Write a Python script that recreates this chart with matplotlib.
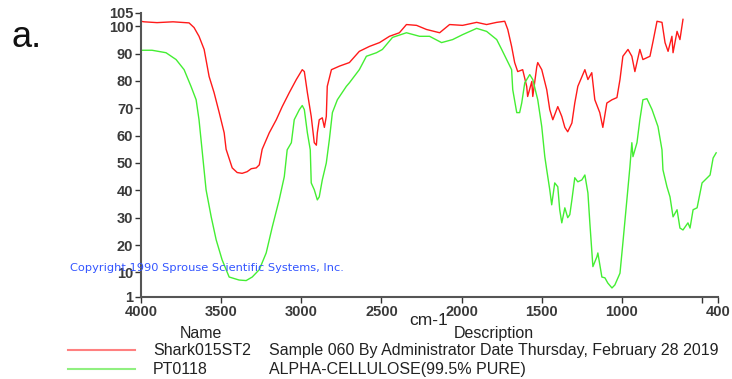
import matplotlib.pyplot as plt
import numpy as np

# Shark015ST2 (vermelho)
red_wn = [4000, 3981, 3900, 3800, 3700, 3669, 3638, 3606, 3575, 3544, 3512, 3481, 3469,
          3431, 3400, 3369, 3338, 3312, 3281, 3262, 3244, 3200, 3156, 3119, 3075, 3031,
          2994, 2981, 2962, 2938, 2919, 2906, 2900, 2888, 2869, 2856, 2844, 2838, 2812,
          2781, 2762, 2700, 2638, 2575, 2512, 2450, 2388, 2344, 2281, 2219, 2137, 2075,
          1994, 1906, 1844, 1781, 1731, 1712, 1688, 1669, 1650, 1619, 1594, 1588, 1562,
          1556, 1531, 1525, 1500, 1469, 1450, 1431, 1400, 1375, 1356, 1338, 1312, 1294,
          1275, 1231, 1212, 1188, 1169, 1138, 1119, 1094, 1062, 1031, 1012, 994, 962,
          938, 919, 888, 869, 825, 806, 781, 750, 731, 712, 688, 681, 656, 638, 619]
red_t = [101.8, 101.6, 101.3, 101.6, 101.2, 99.5, 96.3, 91.5, 81.6, 75.7, 68.4, 61.0, 55.0,
         48.2, 46.5, 46.2, 46.8, 47.9, 48.2, 49.3, 55.0, 61.0, 65.8, 70.6, 75.7, 80.5,
         84.1, 83.4, 75.7, 67.0, 57.4, 56.5, 61.0, 65.8, 66.5, 63.0, 67.0, 78.0, 84.1,
         84.9, 85.4, 86.7, 90.8, 92.6, 94.0, 96.3, 97.6, 100.6, 100.3, 98.8, 97.6, 100.6,
         100.3, 101.4, 100.6, 101.4, 101.8, 98.8, 92.6, 86.7, 83.4, 84.1, 78.0, 74.3, 79.8,
         74.3, 85.2, 86.7, 84.1, 76.8, 69.5, 65.8, 70.6, 67.0, 63.0, 61.4, 64.6, 71.9,
         78.0, 84.1, 80.5, 83.0, 73.1, 68.4, 63.0, 71.9, 73.1, 73.9, 80.5, 89.0, 91.5,
         89.0, 83.4, 91.5, 87.8, 89.0, 94.4, 101.8, 101.4, 94.0, 90.8, 96.3, 90.3, 98.1, 95.1, 102.5]

# PT0118 (verde)
green_wn = [4000, 3931, 3844, 3781, 3731, 3688, 3656, 3638, 3619, 3594, 3562, 3531, 3494,
            3450, 3388, 3344, 3306, 3262, 3219, 3181, 3138, 3106, 3088, 3062, 3044, 3012,
            2994, 2981, 2962, 2944, 2938, 2919, 2900, 2888, 2869, 2844, 2825, 2806, 2775,
            2719, 2700, 2638, 2594, 2531, 2494, 2431, 2344, 2262, 2200, 2125, 2056, 1994,
            1906, 1844, 1781, 1750, 1719, 1688, 1681, 1656, 1638, 1625, 1606, 1575, 1556,
            1525, 1500, 1481, 1469, 1450, 1438, 1419, 1400, 1388, 1375, 1356, 1338, 1325,
            1312, 1294, 1275, 1250, 1231, 1212, 1200, 1181, 1156, 1150, 1125, 1106, 1088,
            1062, 1044, 1012, 994, 969, 950, 938, 931, 906, 888, 869, 844, 812, 775, 750,
            744, 719, 700, 681, 656, 638, 619, 588, 575, 556, 531, 500, 481, 450, 431, 412]
green_t = [91.2, 91.2, 90.3, 87.8, 84.1, 78.0, 73.1, 65.8, 54.8, 40.2, 30.3, 21.9, 14.6,
           8.3, 7.2, 7.0, 8.3, 11.0, 17.1, 26.6, 36.5, 45.0, 54.8, 57.4, 65.8, 69.5,
           71.0, 69.5, 61.0, 54.8, 42.7, 40.2, 36.5, 37.6, 43.8, 50.0, 58.5, 68.4, 73.1,
           78.0, 79.3, 84.1, 89.0, 90.3, 91.5, 95.9, 97.6, 96.3, 96.3, 94.0, 95.1, 96.9,
           99.2, 98.1, 95.1, 91.5, 87.8, 84.1, 76.8, 68.4, 68.4, 71.9, 79.3, 82.3, 80.5,
           73.1, 63.3, 52.3, 47.5, 40.2, 34.7, 42.7, 41.3, 32.9, 28.1, 33.6, 30.0, 31.1,
           36.5, 44.6, 43.1, 43.8, 45.6, 39.0, 28.1, 12.1, 15.7, 17.1, 8.3, 8.0, 6.1,
           4.3, 5.4, 9.7, 20.7, 36.5, 48.6, 57.4, 52.3, 57.4, 65.8, 73.1, 73.5, 69.5, 63.3, 54.8,
           47.5, 41.3, 37.6, 30.3, 32.9, 26.2, 25.5, 28.1, 26.2, 32.9, 33.6, 42.7, 43.8, 45.6, 51.8, 53.7]

x_ticks = [4000, 3500, 3000, 2500, 2000, 1500, 1000, 400]
y_ticks = [1, 10, 20, 30, 40, 50, 60, 70, 80, 90, 100, 105]

plt.rcParams['font.family'] = ['Liberation Sans', 'DejaVu Sans']
fig = plt.figure(figsize=(7.32, 3.79), dpi=100)
ax = fig.add_axes([0.1926, 0.2164, 0.7884, 0.7506])

ax.plot(red_wn, red_t, color='#ff1a1a', linewidth=1.0)
ax.plot(green_wn, green_t, color='#44ee33', linewidth=1.0)

ax.set_xlim(4000, 400)
ax.set_ylim(1, 105)
ax.set_xticks(x_ticks)
ax.set_xticks([500], minor=True)
ax.set_yticks(y_ticks)
ax.tick_params(axis='both', labelsize=10.5, colors='#333333', length=4, width=1)
ax.tick_params(axis='x', pad=1.5)
ax.tick_params(axis='y', pad=1.5)
ax.tick_params(axis='x', which='minor', length=4, width=1, colors='#333333')
for lab in ax.get_xticklabels() + ax.get_yticklabels():
    lab.set_fontweight('bold')
    lab.set_color('#3a3a3a')

ax.spines['top'].set_visible(False)
ax.spines['right'].set_visible(False)
ax.spines['left'].set_color('#555555')
ax.spines['bottom'].set_color('#555555')
ax.spines['left'].set_linewidth(1.5)
ax.spines['bottom'].set_linewidth(1.5)

# copyright por cima do eixo, como no original
fig.text(0.096, 0.293, 'Copyright 1990 Sprouse Scientific Systems, Inc.', family='DejaVu Sans',
         fontsize=8.2, color='#3355ff', va='center', ha='left', zorder=5)

fig.text(0.016, 0.876, 'a.', fontsize=26, color='#111111', va='baseline', ha='left')
fig.text(0.586, 0.1425, 'cm-1', fontsize=12.5, color='#222222', ha='center', va='baseline')

# legenda em forma de tabela
fs = 11.5
fig.text(0.274, 0.121, 'Name', fontsize=fs, color='#222222', ha='center', va='center')
fig.text(0.675, 0.121, 'Description', fontsize=fs, color='#222222', ha='center', va='center')
fig.lines.append(plt.Line2D([0.093, 0.184], [0.076, 0.076], transform=fig.transFigure, color='#ff8080', linewidth=1.5))
fig.lines.append(plt.Line2D([0.093, 0.184], [0.026, 0.026], transform=fig.transFigure, color='#90f080', linewidth=1.5))
fig.text(0.209, 0.076, 'Shark015ST2', fontsize=fs, color='#222222', ha='left', va='center')
fig.text(0.368, 0.076, 'Sample 060 By Administrator Date Thursday, February 28 2019', fontsize=fs,
         color='#222222', ha='left', va='center')
fig.text(0.209, 0.026, 'PT0118', fontsize=fs, color='#222222', ha='left', va='center')
fig.text(0.368, 0.026, 'ALPHA-CELLULOSE(99.5% PURE)', fontsize=fs, color='#222222', ha='left', va='center')

fig.savefig('out.png', dpi=100)
